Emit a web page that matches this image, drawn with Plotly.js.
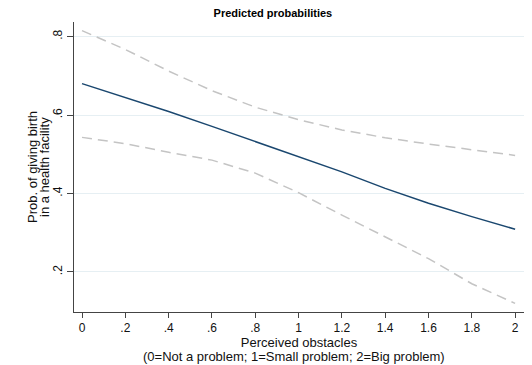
<!DOCTYPE html>
<html>
<head>
<meta charset="utf-8">
<script src="https://cdn.plot.ly/plotly-3.0.1.min.js"></script>
<style>html,body{margin:0;padding:0;background:#fff;}#chart{width:532px;height:365px;}</style>
</head>
<body>
<div id="chart"></div>
<script>
// Perceived obstacles (0=Not a problem; 1=Small problem; 2=Big problem)
const obstacles = [0, 0.2, 0.4, 0.6, 0.8, 1.0, 1.2, 1.4, 1.6, 1.8, 2.0];
// Predicted probability of giving birth in a health facility
const predicted = [0.680, 0.645, 0.609, 0.571, 0.533, 0.494, 0.455, 0.413, 0.375, 0.341, 0.309];
const upperCI   = [0.815, 0.767, 0.712, 0.662, 0.620, 0.588, 0.562, 0.542, 0.526, 0.511, 0.497];
const lowerCI   = [0.543, 0.527, 0.505, 0.485, 0.452, 0.402, 0.345, 0.289, 0.234, 0.170, 0.120];

const xTickVals = [0, 0.2, 0.4, 0.6, 0.8, 1, 1.2, 1.4, 1.6, 1.8, 2];
const xTickText = ["0", ".2", ".4", ".6", ".8", "1", "1.2", "1.4", "1.6", "1.8", "2"];
const yTickVals = [0.2, 0.4, 0.6, 0.8];
const yTickText = [".2", ".4", ".6", ".8"];

const titleText = "Predicted probabilities";
const xTitle1 = "Perceived obstacles";
const xTitle2 = "(0=Not a problem; 1=Small problem; 2=Big problem)";
const yTitle1 = "Prob. of giving birth";
const yTitle2 = "in a health facility";

const FONT = "Arial, 'Liberation Sans', sans-serif";
const ciStyle = {color: "#c4c4c4", width: 1.5, dash: "10px,6px"};

const traces = [
  {x: obstacles, y: upperCI, type: "scatter", mode: "lines", line: ciStyle, hoverinfo: "skip", showlegend: false},
  {x: obstacles, y: lowerCI, type: "scatter", mode: "lines", line: ciStyle, hoverinfo: "skip", showlegend: false},
  {x: obstacles, y: predicted, type: "scatter", mode: "lines", line: {color: "#1a476f", width: 1.5}, showlegend: false}
];

const layout = {
  width: 532, height: 365,
  margin: {l: 74, r: 8, t: 22, b: 53},
  paper_bgcolor: "#ffffff", plot_bgcolor: "#ffffff",
  font: {family: FONT, color: "#000"},
  showlegend: false,
  title: {text: "<b>" + titleText + "</b>", font: {size: 11, color: "#000", family: FONT},
          x: 0.513, xref: "container", xanchor: "center", y: 1 - 13.5/365, yref: "container", yanchor: "middle"},
  xaxis: {
    range: [-0.037, 2.041], tickvals: xTickVals, ticktext: xTickText,
    ticks: "outside", ticklen: 5, tickcolor: "#444", tickwidth: 1,
    showline: true, linecolor: "#444", linewidth: 1, showgrid: false, zeroline: false,
    tickfont: {size: 12, color: "#111"},
    title: {text: xTitle1, font: {size: 13, color: "#111"}, standoff: 0}
  },
  yaxis: {
    range: [0.098, 0.837], tickvals: yTickVals, ticktext: yTickText, tickangle: -90,
    ticks: "outside", ticklen: 6, tickcolor: "#444", tickwidth: 1,
    showline: true, linecolor: "#444", linewidth: 1,
    showgrid: true, gridcolor: "#e6eff3", gridwidth: 1, zeroline: false,
    tickfont: {size: 12, color: "#111"},
    title: {text: yTitle1, font: {size: 13, color: "#111"}, standoff: 10}
  },
  annotations: [
    {text: xTitle2, xref: "paper", yref: "paper", x: 0.489, y: (312 - 356) / 290, xanchor: "center", yanchor: "middle",
     showarrow: false, font: {size: 13, color: "#111"}},
    {text: yTitle2, xref: "paper", yref: "paper", x: (44 - 74) / 450, y: 0.5, xanchor: "center", yanchor: "middle",
     textangle: -90, showarrow: false, font: {size: 13, color: "#111"}}
  ]
};

Plotly.newPlot("chart", traces, layout, {staticPlot: true, displayModeBar: false});
</script>
</body>
</html>
